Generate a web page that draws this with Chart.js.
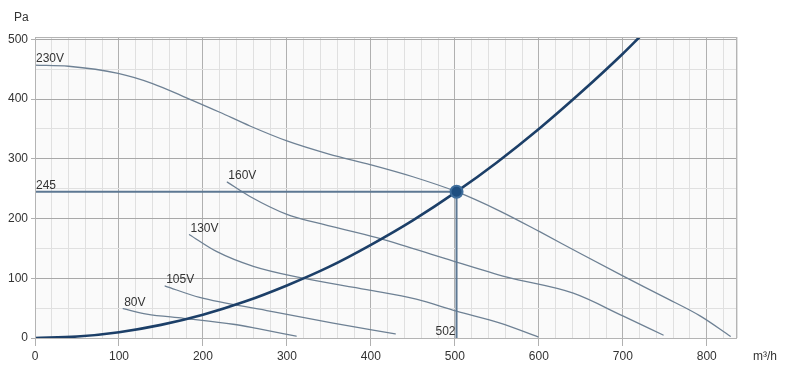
<!DOCTYPE html>
<html>
<head>
<meta charset="utf-8">
<script src="https://cdn.jsdelivr.net/npm/chart.js@4/dist/chart.umd.min.js"></script>
<style>
html,body{margin:0;padding:0;background:#fff;}
#wrap{width:787px;height:371px;position:relative;}
</style>
</head>
<body>
<div id="wrap"><canvas id="c" width="787" height="371"></canvas></div>
<script>
// ---- data ----
const curveNames = ['230V', '160V', '130V', '105V', '80V'];
const flow230 = [0, 40, 99, 140, 179, 220, 256, 300, 350, 400, 450, 502, 553, 601, 650, 700, 750, 792, 828];
const pres230 = [457, 455, 443, 426, 403, 378, 355, 330, 308, 290, 270, 245, 213, 178, 141, 104, 68, 37, 3];
const flow160 = [229, 256, 300, 335, 407, 482, 562, 641, 700, 748];
const pres160 = [261, 237, 207, 193, 168, 136, 102, 75, 37, 5];
const flow130 = [184, 216, 260, 316, 395, 454, 502, 554, 599];
const pres130 = [173, 145, 120, 101, 81, 65, 45, 25, 2];
const flow105 = [155, 196, 276, 355, 429];
const pres105 = [87, 68, 46, 25, 7];
const flow80 = [105, 133, 177, 236, 264, 311];
const pres80 = [49, 40, 33, 23, 16, 3];
const sysFlow = [0, 50, 100, 150, 200, 250, 300, 350, 400, 450, 502, 550, 600, 650, 700, 720];
const sysPres = [0, 2.4, 9.7, 22, 39, 61, 88, 119, 156, 197, 245, 294, 350, 411, 476, 504];
const opFlow = 502;
const opPres = 245;
const xTicks = [0, 100, 200, 300, 400, 500, 600, 700, 800];
const yTicks = [0, 100, 200, 300, 400, 500];
const xMinorStep = 20;
const yMinorStep = 50;
const xMax = 836;
const yMax = 504;
const xUnit = 'm³/h';
const yUnit = 'Pa';

const fanFlows = [flow230, flow160, flow130, flow105, flow80];
const fanPres = [pres230, pres160, pres130, pres105, pres80];
const pts = (xs, ys) => xs.map((x, i) => ({x: x, y: ys[i]}));

const FONT = '"Liberation Sans", Arial, sans-serif';
const TXT = '#333';

const fanDatasets = fanFlows.map((f, i) => ({
  label: curveNames[i],
  data: pts(f, fanPres[i]),
  borderColor: '#6e8194',
  borderWidth: 1.3,
  pointRadius: 0,
  fill: false,
  cubicInterpolationMode: 'monotone'
}));

const datasets = [
  { label: 'op', data: [{x: opFlow, y: opPres}], showLine: false,
    pointRadius: 6, pointBackgroundColor: '#1f4f80', pointBorderColor: '#3f6e9c', pointBorderWidth: 2 },
  { label: 'system', data: pts(sysFlow, sysPres), borderColor: '#1c3f68', borderWidth: 2.6,
    pointRadius: 0, fill: false, cubicInterpolationMode: 'monotone' },
  { label: 'oplines', data: [{x: 0, y: opPres}, {x: opFlow, y: opPres}, {x: opFlow, y: 0}],
    borderColor: '#5d7893', borderWidth: 2, pointRadius: 0, fill: false, tension: 0 },
  ...fanDatasets
];

const bgPlugin = {
  id: 'bg',
  beforeDraw(chart) {
    const {ctx, chartArea: a} = chart;
    ctx.save();
    ctx.fillStyle = '#fafafa';
    ctx.fillRect(a.left, a.top, a.right - a.left, a.bottom - a.top);
    ctx.restore();
  },
  afterDraw(chart) {
    const {ctx, chartArea: a} = chart;
    ctx.save();
    ctx.strokeStyle = '#b4b4b4';
    ctx.lineWidth = 1;
    ctx.strokeRect(a.left + 0.5, a.top + 0.5, a.right - a.left - 1, a.bottom - a.top);
    ctx.restore();
  }
};

const labelPlugin = {
  id: 'labels',
  afterDatasetsDraw(chart) {
    const {ctx, scales: {x, y}} = chart;
    ctx.save();
    ctx.font = '12px ' + FONT;
    ctx.fillStyle = TXT;
    ctx.textBaseline = 'alphabetic';
    ctx.textAlign = 'left';
    fanFlows.forEach((f, i) => {
      const px = x.getPixelForValue(f[0]);
      const py = y.getPixelForValue(fanPres[i][0]);
      ctx.fillText(curveNames[i], px + 1, py - 3);
    });
    ctx.fillText(String(opPres), x.getPixelForValue(0) + 1, y.getPixelForValue(opPres) - 3);
    ctx.textAlign = 'right';
    ctx.fillText(String(opFlow), x.getPixelForValue(opFlow) - 1, y.getPixelForValue(0) - 3);
    ctx.textAlign = 'left';
    ctx.fillText(yUnit, 14, 21);
    ctx.textAlign = 'center';
    ctx.fillText(xUnit, 765, 360);
    ctx.restore();
  }
};

const isMajor = (v, list) => list.includes(Math.round(v));
const gridTicks = (step, max) => {
  const t = [];
  for (let v = 0; v < max; v += step) t.push({value: v});
  t.push({value: max});
  return t;
};

new Chart(document.getElementById('c'), {
  type: 'scatter',
  data: { datasets },
  options: {
    responsive: false,
    animation: false,
    devicePixelRatio: 1,
    layout: { padding: { left: 0, right: 50, top: 37, bottom: 0 } },
    plugins: { legend: { display: false }, tooltip: { enabled: false } },
    elements: { line: { borderCapStyle: 'round', borderJoinStyle: 'round' } },
    datasets: { scatter: { showLine: true } },
    scales: {
      x: {
        type: 'linear', min: 0, max: xMax,
        afterBuildTicks(s) { s.ticks = gridTicks(xMinorStep, xMax); },
        afterFit(s) { s.height = 33; },
        border: { display: false },
        grid: {
          color: c => isMajor(c.tick.value, xTicks) ? '#b0b0b0' : '#e0e0e0',
          tickColor: c => isMajor(c.tick.value, xTicks) ? '#b0b0b0' : 'rgba(0,0,0,0)',
          tickLength: 8, lineWidth: 1
        },
        ticks: {
          autoSkip: false, maxRotation: 0, padding: 3,
          color: TXT, font: { family: FONT, size: 12 },
          callback: v => isMajor(v, xTicks) ? String(Math.round(v)) : ''
        }
      },
      y: {
        type: 'linear', min: 0, max: yMax,
        afterBuildTicks(s) { s.ticks = gridTicks(yMinorStep, yMax); },
        afterFit(s) { s.width = 35; },
        border: { display: false },
        grid: {
          color: c => isMajor(c.tick.value, yTicks) ? '#a8a8a8' : '#e0e0e0',
          tickColor: c => isMajor(c.tick.value, yTicks) ? '#b0b0b0' : 'rgba(0,0,0,0)',
          tickLength: 4, lineWidth: 1
        },
        ticks: {
          autoSkip: false, padding: 3,
          color: TXT, font: { family: FONT, size: 12 },
          callback: v => isMajor(v, yTicks) ? String(Math.round(v)) : ''
        }
      }
    }
  },
  plugins: [bgPlugin, labelPlugin]
});
</script>
</body>
</html>
